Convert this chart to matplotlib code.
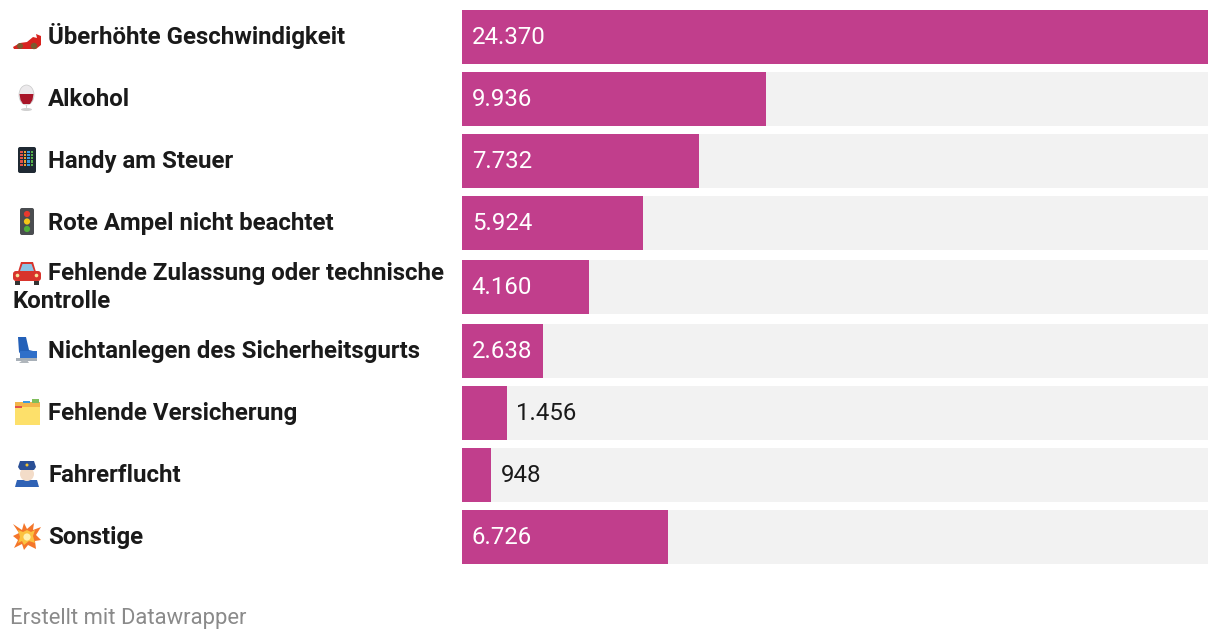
import matplotlib
matplotlib.use("Agg")
import matplotlib.pyplot as plt
from matplotlib.patches import Rectangle, FancyBboxPatch, Circle, Polygon, Ellipse

categories = ["Überhöhte Geschwindigkeit", "Alkohol", "Handy am Steuer",
              "Rote Ampel nicht beachtet", "Fehlende Zulassung oder technische",
              "Nichtanlegen des Sicherheitsgurts", "Fehlende Versicherung",
              "Fahrerflucht", "Sonstige"]
values = [24370, 9936, 7732, 5924, 4160, 2638, 1456, 948, 6726]
value_labels = ["24.370", "9.936", "7.732", "5.924", "4.160", "2.638", "1.456", "948", "6.726"]

row_tops = [10, 72, 134, 196, 260, 324, 386, 448, 510]
BAR_H = 54
W, H = 1220, 640
MAGENTA = "#c13e8c"
TRACK = "#f2f2f2"
INK = "#1a1a1a"
XMAX = max(values)

fig = plt.figure(figsize=(W / 100, H / 100), dpi=100, facecolor="white")
ax = fig.add_axes([462 / W, 0, (1208 - 462) / W, 1])
ax.set_xlim(0, XMAX)
ax.set_ylim(H, 0)
ax.axis("off")
centres = [t + BAR_H / 2 for t in row_tops]
ax.barh(centres, [XMAX] * len(values), height=BAR_H, color=TRACK, linewidth=0)
ax.barh(centres, values, height=BAR_H, color=MAGENTA, linewidth=0)

for top, val, lab in zip(row_tops, values, value_labels):
    inside = val > 2000
    ax.annotate(lab, xy=(0 if inside else val, top + 34), xycoords="data",
                xytext=(7.1 if inside else 7.0, 0), textcoords="offset points",
                color="white" if inside else INK, fontsize=17.3,
                family="Roboto", va="baseline", ha="left")

ov = fig.add_axes([0, 0, 1, 1], facecolor="none")
ov.set_xlim(0, W)
ov.set_ylim(H, 0)
ov.axis("off")

for i, (top, cat) in enumerate(zip(row_tops, categories)):
    base = top + 34
    if i == 4:
        base = 280
    ov.text(48, base, cat, family="Roboto", weight="bold", fontsize=17.3,
            color=INK, va="baseline", ha="left")
ov.text(12, 308, "Kontrolle", family="Roboto", weight="bold", fontsize=17.3,
        color=INK, va="baseline", ha="left")
ov.text(10, 624, "Erstellt mit Datawrapper", family="Roboto", fontsize=15.8,
        color="#8a8a8a", va="baseline", ha="left")


def add(p):
    ov.add_patch(p)


def rbox(x, y, w, h, c, r=1.5):
    add(FancyBboxPatch((x + r, y + r), w - 2 * r, h - 2 * r,
                       boxstyle=f"round,pad={r}", fc=c, ec="none"))


# racing car
add(Polygon([(13, 47), (20, 43), (27, 42), (33, 37), (37, 38), (36, 34), (41, 36), (41, 45), (36, 49), (14, 49)],
            fc="#d8231f", ec="none"))
add(Circle((20, 46), 3, fc="#7b5a2e", ec="none"))
add(Circle((34, 46), 3.2, fc="#7b5a2e", ec="none"))
# wine glass
add(Ellipse((26.5, 95), 15, 20, fc="#eceaec", ec="#c8c8c8", lw=0.5))
add(Polygon([(19.5, 94), (33.5, 94), (32.5, 100), (30, 104), (23, 104), (20.5, 100)], fc="#a81528", ec="none"))
add(Rectangle((25.6, 105), 1.8, 5, fc="#d0d0d0", ec="none"))
add(Ellipse((26.5, 109.5), 11, 3, fc="#d0d0d0", ec="none"))
# phone
rbox(18, 147, 18, 26, "#1f2933", 2)
for r_ in range(5):
    for c_, col in enumerate(["#e2524a", "#f0a030", "#3a9be0", "#55b04a"]):
        add(Rectangle((20.3 + c_ * 3.4, 150.5 + r_ * 3.3), 2.4, 2.2, fc=col, ec="none"))
# traffic light
rbox(20, 208, 14, 27, "#4a4d50", 2)
for cy, col in zip([214, 221.5, 229], ["#e8392e", "#f5c518", "#4fae3a"]):
    add(Circle((27, cy), 3.1, fc=col, ec="none"))
# car front
rbox(13, 271, 28, 10, "#d8342c", 3)
add(Polygon([(18, 272), (21, 262), (33, 262), (36, 272)], fc="#d8342c", ec="none"))
add(Polygon([(20, 271), (22.5, 264), (31.5, 264), (34, 271)], fc="#8cc3e4", ec="none"))
add(Rectangle((15, 281), 5, 3.5, fc="#333333", ec="none"))
add(Rectangle((34, 281), 5, 3.5, fc="#333333", ec="none"))
add(Circle((17.5, 275.5), 1.8, fc="#f7e39a", ec="none"))
add(Circle((36.5, 275.5), 1.8, fc="#f7e39a", ec="none"))
# seat
add(Polygon([(18, 337), (26, 337), (29, 350), (37, 352), (37, 359), (24, 359), (19, 352)], fc="#2360b8", ec="none"))
add(Rectangle((20, 351), 17, 8, fc="#2f6fc9", ec="none"))
add(Rectangle((16, 358), 21, 2.5, fc="#a8b0b8", ec="none"))
add(Polygon([(23, 360), (27, 360), (29, 363), (19, 363)], fc="#b0b6bc", ec="none"))
# folder
add(Rectangle((15, 402), 25, 23, fc="#fde06a", ec="none"))
add(Rectangle((15, 402), 25, 5, fc="#f2b64a", ec="none"))
add(Rectangle((32, 399), 7, 3.5, fc="#7fbe5c", ec="none"))
add(Rectangle((23, 401), 7, 2.2, fc="#3a9be0", ec="none"))
add(Rectangle((15, 405.5), 7, 2.2, fc="#e2524a", ec="none"))
# police officer
add(Polygon([(15, 487), (17, 480), (37, 480), (39, 487)], fc="#2f62b5", ec="none"))
add(Circle((27, 474), 7, fc="#f3dcc8", ec="none"))
add(Polygon([(18, 467), (20, 461), (34, 461), (36, 467), (34, 470), (20, 470)], fc="#2a4f96", ec="none"))
add(Circle((27, 465), 1.5, fc="#f2c230", ec="none"))
# collision
add(Polygon([(13, 524), (22, 530), (24, 523), (27, 529), (34, 523), (33, 530), (41, 527), (36, 535),
             (41, 540), (35, 541), (36, 549), (28, 545), (24, 550), (22, 544), (14, 548), (18, 540),
             (13, 536), (19, 533)], fc="#f4762a", ec="none"))
add(Polygon([(18, 530), (23, 532), (27, 530), (31, 532), (35, 530), (33, 536), (35, 543), (29, 541), (24, 545), (22, 541), (18, 543), (20, 537)],
            fc="#fbc13f", ec="none"))
add(Circle((27, 537), 3.6, fc="#fff0b0", ec="none"))

fig.savefig("out.png", dpi=100, facecolor="white")
